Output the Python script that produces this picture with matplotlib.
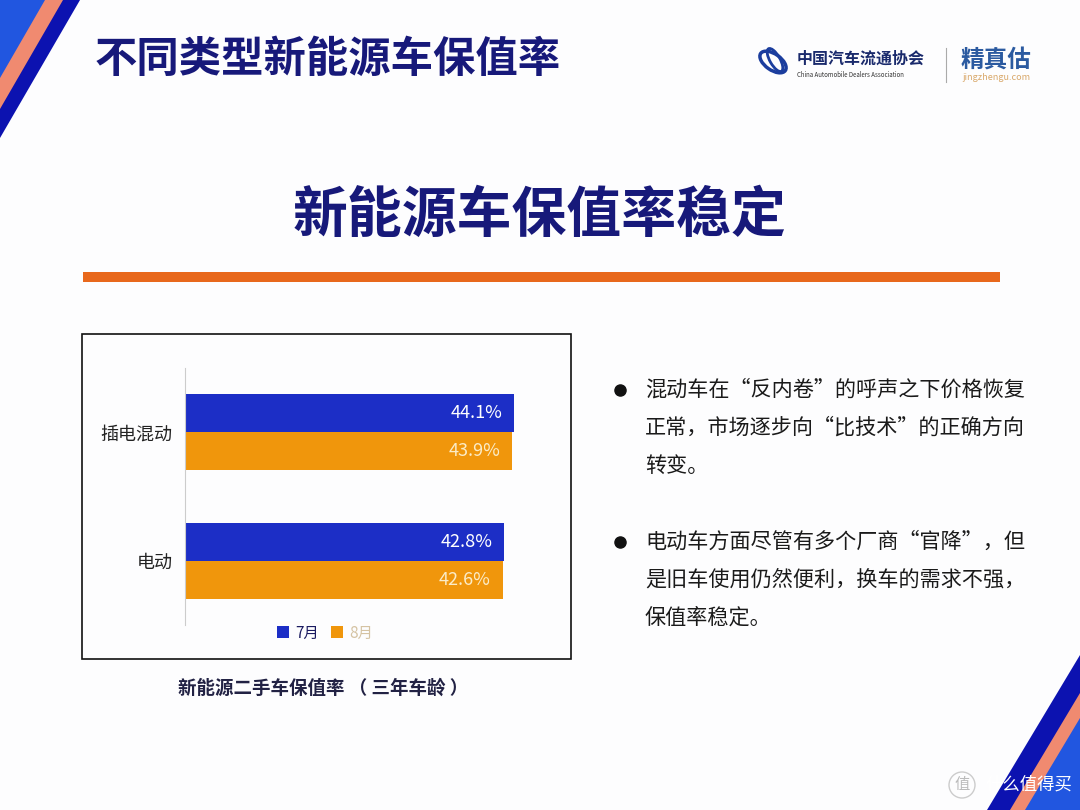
import numpy as np
import matplotlib
matplotlib.use("Agg")
import matplotlib.pyplot as plt
import matplotlib.patches as patches

plt.rcParams['font.family'] = ['Noto Sans CJK SC', 'DejaVu Sans']

categories = ['插电混动', '电动']
jul = [44.1, 42.8]
aug = [43.9, 42.6]
series = ['7月', '8月']

page_title = '不同类型新能源车保值率'
headline = '新能源车保值率稳定'
caption = '新能源二手车保值率 （ 三年车龄 ）'
bullets = [
    ['混动车在“反内卷”的呼声之下价格恢复', '正常，市场逐步向“比技术”的正确方向', '转变。'],
    ['电动车方面尽管有多个厂商“官降”，但', '是旧车使用仍然便利，换车的需求不强，', '保值率稳定。'],
]

NAVY = '#17197a'
BLUE = '#1c2ec6'
ORANGE = '#f0960c'

fig = plt.figure(figsize=(10.8, 8.1), dpi=100)
fig.patch.set_facecolor('#fdfdfe')

# background layer in pixel coordinates
bg = fig.add_axes([0, 0, 1, 1])
bg.set_xlim(0, 1080)
bg.set_ylim(810, 0)
bg.axis('off')

# corner stripes
bg.add_patch(patches.Polygon([(0, 0), (80, 0), (0, 138)], color='#0c12b0', lw=0))
bg.add_patch(patches.Polygon([(0, 0), (63, 0), (0, 109)], color='#f08a70', lw=0))
bg.add_patch(patches.Polygon([(0, 0), (45, 0), (0, 78)], color='#2156e0', lw=0))
bg.add_patch(patches.Polygon([(987, 810), (1080, 810), (1080, 655)], color='#0c12b0', lw=0))
bg.add_patch(patches.Polygon([(1010, 810), (1080, 810), (1080, 693)], color='#f08a70', lw=0))
bg.add_patch(patches.Polygon([(1025, 810), (1080, 810), (1080, 718)], color='#2156e0', lw=0))

bg.text(95, 60, page_title, fontsize=30.5, fontweight='bold', color=NAVY,
        ha='left', va='center')
bg.text(540, 215, headline, fontsize=39.5, fontweight='bold', color=NAVY,
        ha='center', va='center')
bg.add_patch(patches.Rectangle((83, 272), 917, 10, color='#e8681c', lw=0))

# logos
bg.add_patch(patches.Ellipse((773, 62), 30, 16, angle=35, fill=False,
                             ec='#1b3d9e', lw=2.5))
bg.add_patch(patches.Ellipse((775, 60), 10, 26, angle=-30, fill=False,
                             ec='#1b3d9e', lw=2))
bg.text(797, 59, '中国汽车流通协会', fontsize=11.5, fontweight='bold',
        color='#1a2a6c', ha='left', va='center')
bg.text(797, 75, 'China Automobile Dealers Association', fontsize=4.4,
        color='#333', ha='left', va='center')
bg.plot([946, 946], [48, 82], color='#aaaaaa', lw=0.8)
bg.text(961, 60, '精真估', fontsize=17, fontweight='bold', color='#2b5aa0',
        ha='left', va='center')
bg.text(962, 78, 'jingzhengu.com', fontsize=6.5, color='#d9a86a',
        ha='left', va='center')

# chart frame and caption
bg.add_patch(patches.Rectangle((82, 334), 489, 325, fill=False, ec='#111111', lw=1.2))
bg.text(178, 688, caption, fontsize=13.3, fontweight='bold', color='#222244',
        ha='left', va='center')

# bullet text
line_y = [[390, 428, 466], [542, 580, 618]]
for lines, ys in zip(bullets, line_y):
    bg.plot(620, ys[0], 'o', color='#111111', ms=8)
    for s, yy in zip(lines, ys):
        bg.text(645, yy, s, fontsize=15.2, color='#1a1a1a', ha='left', va='center')

# watermark
bg.add_patch(patches.Circle((962, 785), 13, fill=False, ec='#cccccc', lw=1))
bg.text(962, 785, '值', fontsize=11, color='#bbbbbb', ha='center', va='center')
bg.text(985, 785, '什么值得买', fontsize=12.5, color='white', ha='left', va='center')

# bar chart
ax = fig.add_axes([185 / 1080, 1 - 625 / 810, 373 / 1080, 257 / 810])
ax.set_facecolor('none')
y = np.arange(len(categories))
h = 0.295
b1 = ax.barh(y - h / 2, jul, h, color=BLUE, label=series[0])
b2 = ax.barh(y + h / 2, aug, h, color=ORANGE, label=series[1])
ax.set_xlim(0, 50)
ax.set_ylim(1.5, -0.5)

for bars, vals, tc in [(b1, jul, 'white'), (b2, aug, '#fbecc8')]:
    for bar, v in zip(bars, vals):
        ax.text(v - 1.6, bar.get_y() + bar.get_height() / 2, f'{v}%',
                ha='right', va='center', color=tc, fontsize=13)

ax.set_yticks(y, categories)
ax.tick_params(axis='y', length=0, pad=9, labelsize=13, labelcolor='#222222')
ax.set_xticks([])
for side in ['top', 'right', 'bottom']:
    ax.spines[side].set_visible(False)
ax.spines['left'].set_color('#cccccc')
ax.spines['left'].set_linewidth(0.8)

ax.legend(handles=[b1, b2], labels=series, loc='center',
          bbox_to_anchor=(325 / 1080, 1 - 633 / 810), bbox_transform=fig.transFigure,
          ncol=2, frameon=False, fontsize=11, handlelength=0.8, handleheight=0.8,
          handletextpad=0.4, columnspacing=0.8, labelcolor=['#1a1a60', '#d5c3a3'])

fig.savefig('out.png', dpi=100)
